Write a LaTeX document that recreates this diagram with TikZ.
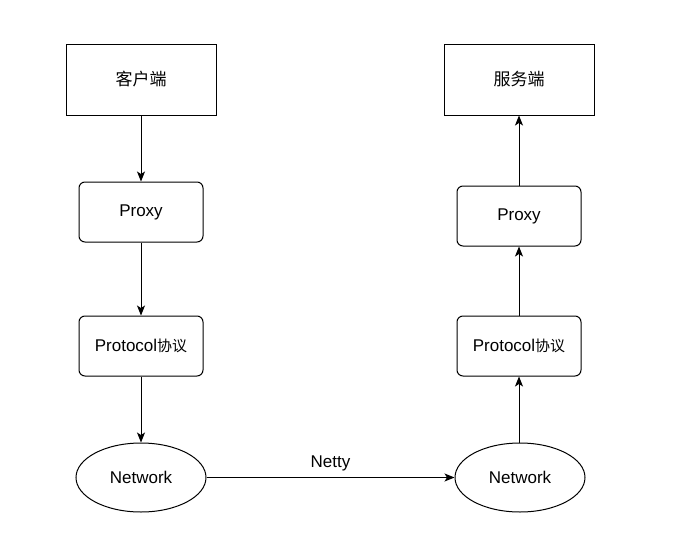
\documentclass[tikz,border=0pt]{standalone}
\usepackage{fontspec}
\setmainfont{Liberation Sans}
\newfontfamily\cjk[Scale=0.88]{Noto Sans CJK SC}
\newfontfamily\cjkbig{Noto Sans CJK SC}
\usetikzlibrary{arrows.meta,shapes.geometric}

\tikzset{
    box/.style={draw, line width=1pt, minimum width=150pt, minimum height=71pt, inner sep=0pt},
    rbox/.style={draw, line width=1pt, rounded corners=6pt, minimum width=124pt, minimum height=60pt, inner sep=0pt},
    net/.style={draw, line width=1pt, ellipse, minimum width=130pt, minimum height=69pt, inner sep=0pt},
    flow/.style={line width=1pt, -{Stealth[length=10pt,width=8pt,inset=2.5pt]}}
}

\begin{document}
\begin{tikzpicture}[x=1pt, y=-1pt, font=\fontsize{17}{20}\selectfont]
    \useasboundingbox (0,0) rectangle (697,549);
    % client side
    \node[box]  (client)  at (141,79.5)  {\cjkbig 客户端};
    \node[rbox] (proxyL)  at (141,212)   {Proxy};
    \node[rbox] (protoL)  at (141,346)   {Protocol\cjk 协议};
    \node[net]  (netL)    at (141,477.5) {Network};
    % server side
    \node[box]  (server)  at (519,79.5)  {\cjkbig 服务端};
    \node[rbox] (proxyR)  at (519,216)   {Proxy};
    \node[rbox] (protoR)  at (519,346)   {Protocol\cjk 协议};
    \node[net]  (netR)    at (520,477.5) {Network};
    % connectors
    \draw[flow] (client) -- (proxyL);
    \draw[flow] (proxyL) -- (protoL);
    \draw[flow] (protoL) -- (netL);
    \draw[flow] (netL) -- node[above=3pt] {Netty} (netR);
    \draw[flow] (netR.north -| protoR) -- (protoR);
    \draw[flow] (protoR) -- (proxyR);
    \draw[flow] (proxyR) -- (server);
\end{tikzpicture}
\end{document}
